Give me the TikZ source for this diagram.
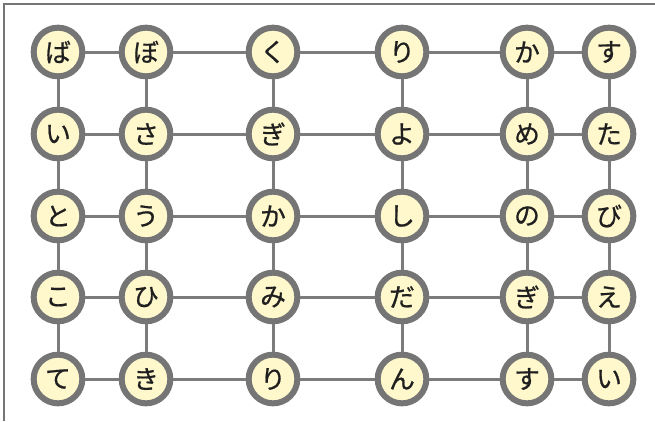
\documentclass[tikz,border=0pt]{standalone}
\usepackage{fontspec}
\newfontfamily\jpfont[FakeBold=0.8]{Noto Sans CJK JP}
\definecolor{kanafill}{HTML}{FFF8CC}
\definecolor{rimgray}{HTML}{757575}
\definecolor{wiregray}{HTML}{7C7C7C}
\tikzset{
  kana/.style = {circle, draw = rimgray, line width = 0.18cm, fill = kanafill,
    minimum size = 1.46cm, inner sep = 0pt, text = black!88,
    font = \jpfont\fontsize{22}{22}\selectfont},
  wire/.style = {draw = wiregray, line width = 0.09cm}
}

\begin{document}
\begin{tikzpicture}[x = 0.03cm, y = -0.03cm]
    \useasboundingbox (0,0) rectangle (655,421);
    \draw[rimgray, line width = 0.06cm] (4,421) -- (4,4) -- (655,4);
    \foreach \x [count = \c] in {58,146,273,402,527,609} \coordinate (c\c) at (\x,0);
    \foreach \y [count = \r] in {52,134,216,297,379} \coordinate (r\r) at (0,\y);
    \foreach \k [count = \c] in {ば,ぼ,く,り,か,す} \node[kana] (n-1-\c) at (c\c |- r1) {\k};
    \foreach \k [count = \c] in {い,さ,ぎ,よ,め,た} \node[kana] (n-2-\c) at (c\c |- r2) {\k};
    \foreach \k [count = \c] in {と,う,か,し,の,び} \node[kana] (n-3-\c) at (c\c |- r3) {\k};
    \foreach \k [count = \c] in {こ,ひ,み,だ,ぎ,え} \node[kana] (n-4-\c) at (c\c |- r4) {\k};
    \foreach \k [count = \c] in {て,き,り,ん,す,い} \node[kana] (n-5-\c) at (c\c |- r5) {\k};
    % rows
    \foreach \i in {1,...,5}
        \foreach \j/\m in {1/2,2/3,3/4,4/5,5/6}
            \draw[wire] (n-\i-\j) -- (n-\i-\m);
    % columns
    \foreach \j in {1,...,6}
        \foreach \i/\m in {1/2,2/3,3/4,4/5}
            \draw[wire] (n-\i-\j) -- (n-\m-\j);
\end{tikzpicture}
\end{document}
